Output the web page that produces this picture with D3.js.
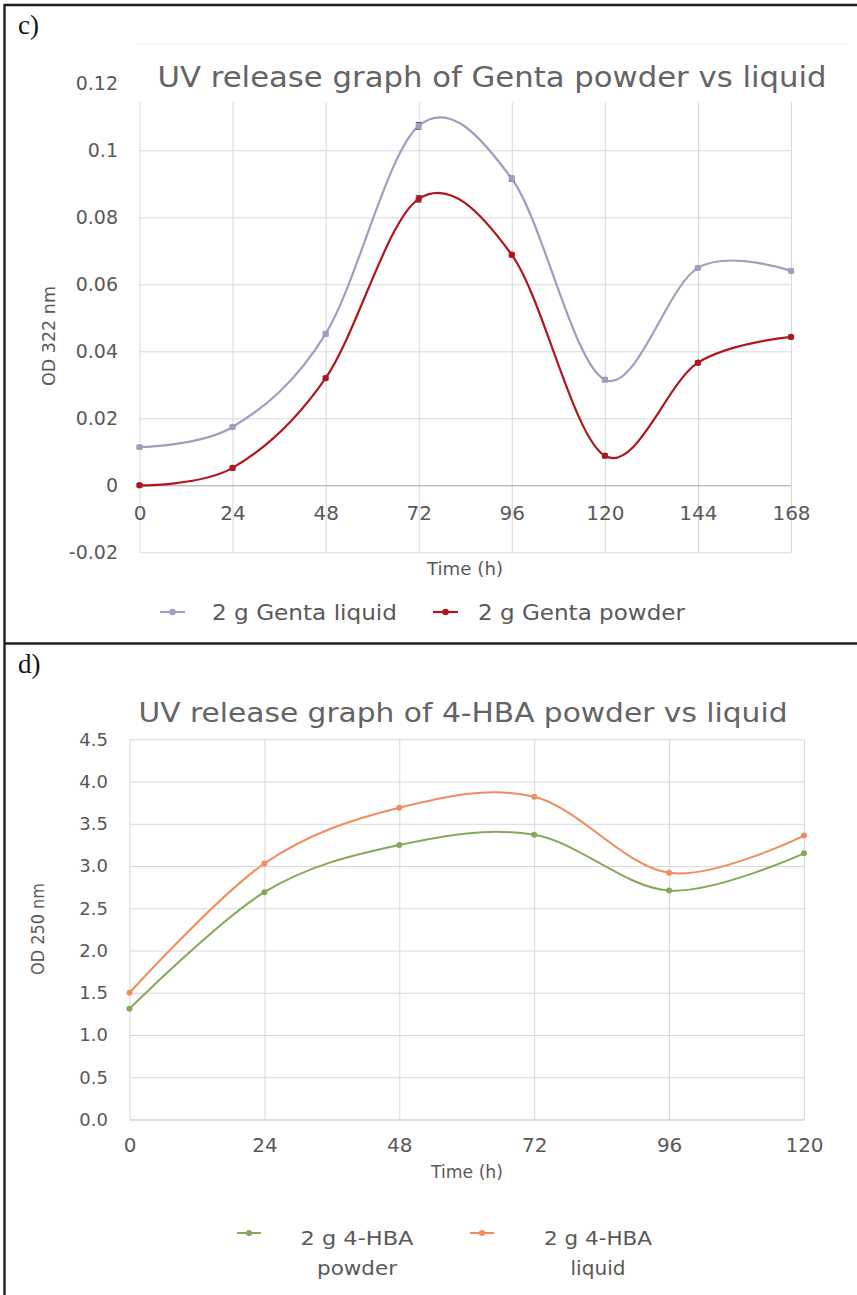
<!DOCTYPE html>
<html>
<head>
<meta charset="utf-8">
<script src="https://cdn.jsdelivr.net/npm/d3@7"></script>
<style>
  html, body { margin: 0; padding: 0; background: #fff; }
  svg { display: block; }
  text { font-family: "DejaVu Sans", "Noto Sans", sans-serif; }
</style>
</head>
<body>
<svg id="fig" width="857" height="1295"></svg>
<script>
// ---- Panel c: Gentamicin release (OD 322 nm) ----
const gentaTimes = [0, 24, 48, 72, 96, 120, 144, 168];
const gentaLiquid = [0.0114, 0.0174, 0.0452, 0.1073, 0.0915, 0.0315, 0.0649, 0.0640];
const gentaLiquidErr = [0.0005, 0.0005, 0.0006, 0.0010, 0.0008, 0.0006, 0.0005, 0.0005];
const gentaPowder = [0.0000, 0.0052, 0.0320, 0.0855, 0.0688, 0.0088, 0.0366, 0.0443];
const gentaPowderErr = [0.0005, 0.0006, 0.0006, 0.0010, 0.0006, 0.0006, 0.0005, 0.0005];
const gentaYTicks = [-0.02, 0, 0.02, 0.04, 0.06, 0.08, 0.1, 0.12];
const gentaYLabels = ["-0.02", "0", "0.02", "0.04", "0.06", "0.08", "0.1", "0.12"];
const gentaSeriesNames = ["2 g Genta liquid", "2 g Genta powder"];

// ---- Panel d: 4-HBA release (OD 250 nm) ----
const hbaTimes = [0, 24, 48, 72, 96, 120];
const hbaPowder = [1.31, 2.69, 3.25, 3.37, 2.71, 3.15];
const hbaLiquid = [1.50, 3.03, 3.69, 3.82, 2.92, 3.36];
const hbaYTicks = [0, 0.5, 1, 1.5, 2, 2.5, 3, 3.5, 4, 4.5];
const hbaSeriesNames = [["2 g 4-HBA", "powder"], ["2 g 4-HBA", "liquid"]];

const svg = d3.select("#fig");
const gridColor = "#d9d9d9";
const labelColor = "#595959";
const smooth = d3.curveCardinal.tension(0);

// Table frame around both panels
const frame = svg.append("g").attr("stroke", "#231f20").attr("stroke-width", 2.4).attr("fill", "none");
frame.append("line").attr("x1", 4).attr("x2", 857).attr("y1", 5).attr("y2", 5);
frame.append("line").attr("x1", 4).attr("x2", 857).attr("y1", 643.5).attr("y2", 643.5);
frame.append("line").attr("x1", 4.5).attr("x2", 4.5).attr("y1", 4).attr("y2", 1295);

svg.append("text").attr("x", 18).attr("y", 34)
  .style("font-family", "'Liberation Serif', 'Times New Roman', serif")
  .style("font-size", "27px").attr("fill", "#111").text("c)");
svg.append("text").attr("x", 18).attr("y", 673)
  .style("font-family", "'Liberation Serif', 'Times New Roman', serif")
  .style("font-size", "27px").attr("fill", "#111").text("d)");

// ================= Panel c =================
{
  const x = d3.scaleLinear().domain([0, 168]).range([139.5, 791]);
  const y = d3.scaleLinear().domain([-0.02, 0.12]).range([552.3, 83.3]);
  const g = svg.append("g");

  // faint chart-area edge
  g.append("line").attr("x1", 138).attr("x2", 848).attr("y1", 44).attr("y2", 44)
    .attr("stroke", "#f1f5f5").attr("stroke-width", 1);

  // gridlines
  g.append("g").attr("transform", `translate(0,${y(-0.02)})`)
    .call(d3.axisBottom(x).tickValues(gentaTimes).tickSize(-(y(-0.02) - y(0.12))).tickFormat(""))
    .call(a => a.select(".domain").remove())
    .call(a => a.selectAll("line").attr("stroke", gridColor));
  g.append("g").attr("transform", `translate(${x(0)},0)`)
    .call(d3.axisLeft(y).tickValues(gentaYTicks).tickSize(-(x(168) - x(0))).tickFormat(""))
    .call(a => a.select(".domain").remove())
    .call(a => a.selectAll("line").attr("stroke", d => d === 0 ? "#a6a6a6" : gridColor));

  // title (white box covers the top of the grid)
  g.append("rect").attr("x", 137).attr("y", 52).attr("width", 695).attr("height", 50.5).attr("fill", "#fff");
  g.append("text").attr("x", 492).attr("y", 87).attr("text-anchor", "middle")
    .attr("textLength", 669).attr("lengthAdjust", "spacingAndGlyphs")
    .style("font-size", "29px").attr("fill", "#646464")
    .text("UV release graph of Genta powder vs liquid");

  // axes labels
  g.append("g").attr("transform", `translate(0,${y(0)})`)
    .call(d3.axisBottom(x).tickValues(gentaTimes).tickSize(0).tickPadding(21))
    .call(a => a.select(".domain").remove())
    .call(a => a.selectAll("text").attr("fill", labelColor).style("font-size", "20px"));
  g.append("g").attr("transform", `translate(${x(0)},0)`)
    .call(d3.axisLeft(y).tickValues(gentaYTicks).tickSize(0).tickPadding(21.5)
      .tickFormat((d, i) => gentaYLabels[i]))
    .call(a => a.select(".domain").remove())
    .call(a => a.selectAll("text").attr("fill", labelColor).style("font-size", "19px"));

  g.append("text").attr("x", 465).attr("y", 575).attr("text-anchor", "middle")
    .attr("textLength", 76).attr("lengthAdjust", "spacingAndGlyphs")
    .style("font-size", "17px").attr("fill", labelColor).text("Time (h)");
  g.append("text").attr("transform", "translate(55,336) rotate(-90)").attr("text-anchor", "middle")
    .attr("textLength", 100).attr("lengthAdjust", "spacingAndGlyphs")
    .style("font-size", "18px").attr("fill", labelColor).text("OD 322 nm");

  const series = [
    { name: gentaSeriesNames[0], vals: gentaLiquid, err: gentaLiquidErr, color: "#a29cc0" },
    { name: gentaSeriesNames[1], vals: gentaPowder, err: gentaPowderErr, color: "#b0161e" }
  ];
  const line = d3.line().x((d, i) => x(gentaTimes[i])).y(d => y(d)).curve(smooth);
  series.forEach(s => {
    const sg = g.append("g");
    sg.append("path").attr("d", line(s.vals)).attr("fill", "none")
      .attr("stroke", s.color).attr("stroke-width", 2.2);
    // error bars
    s.vals.forEach((v, i) => {
      const cx = x(gentaTimes[i]);
      const y1 = y(v + s.err[i]), y2 = y(v - s.err[i]);
      sg.append("line").attr("x1", cx).attr("x2", cx).attr("y1", y1).attr("y2", y2)
        .attr("stroke", "#555").attr("stroke-width", 1);
      [y1, y2].forEach(yy => sg.append("line").attr("x1", cx - 3).attr("x2", cx + 3)
        .attr("y1", yy).attr("y2", yy).attr("stroke", "#555").attr("stroke-width", 1));
    });
    sg.selectAll("circle").data(s.vals).join("circle")
      .attr("cx", (d, i) => x(gentaTimes[i])).attr("cy", d => y(d)).attr("r", 3.2)
      .attr("fill", s.color);
  });

  // legend
  const leg = [
    { x0: 160, tx: 212, color: series[0].color, name: series[0].name, len: 185 },
    { x0: 433, tx: 478, color: series[1].color, name: series[1].name, len: 207 }
  ];
  leg.forEach(l => {
    g.append("line").attr("x1", l.x0).attr("x2", l.x0 + 25).attr("y1", 612).attr("y2", 612)
      .attr("stroke", l.color).attr("stroke-width", 2.2);
    g.append("circle").attr("cx", l.x0 + 12.5).attr("cy", 612).attr("r", 3.2).attr("fill", l.color);
    g.append("text").attr("x", l.tx).attr("y", 620)
      .attr("textLength", l.len).attr("lengthAdjust", "spacingAndGlyphs")
      .style("font-size", "22px").attr("fill", labelColor).text(l.name);
  });
}

// ================= Panel d =================
{
  const x = d3.scaleLinear().domain([0, 120]).range([129.5, 804]);
  const y = d3.scaleLinear().domain([0, 4.5]).range([1119.5, 739.3]);
  const g = svg.append("g");

  g.append("g").attr("transform", `translate(0,${y(0)})`)
    .call(d3.axisBottom(x).tickValues(hbaTimes).tickSize(-(y(0) - y(4.5))).tickFormat(""))
    .call(a => a.select(".domain").remove())
    .call(a => a.selectAll("line").attr("stroke", gridColor));
  g.append("g").attr("transform", `translate(${x(0)},0)`)
    .call(d3.axisLeft(y).tickValues(hbaYTicks).tickSize(-(x(120) - x(0))).tickFormat(""))
    .call(a => a.select(".domain").remove())
    .call(a => a.selectAll("line").attr("stroke", d => d === 0 ? "#bfbfbf" : gridColor));

  g.append("text").attr("x", 463).attr("y", 722).attr("text-anchor", "middle")
    .attr("textLength", 649).attr("lengthAdjust", "spacingAndGlyphs")
    .style("font-size", "26px").attr("fill", "#646464")
    .text("UV release graph of 4-HBA powder vs liquid");

  g.append("g").attr("transform", `translate(0,${y(0)})`)
    .call(d3.axisBottom(x).tickValues(hbaTimes).tickSize(0).tickPadding(18))
    .call(a => a.select(".domain").remove())
    .call(a => a.selectAll("text").attr("fill", labelColor).style("font-size", "20px"));
  g.append("g").attr("transform", `translate(${x(0)},0)`)
    .call(d3.axisLeft(y).tickValues(hbaYTicks).tickSize(0).tickPadding(21.5).tickFormat(d3.format(".1f")))
    .call(a => a.select(".domain").remove())
    .call(a => a.selectAll("text").attr("fill", labelColor).style("font-size", "18px"));

  g.append("text").attr("x", 467).attr("y", 1178).attr("text-anchor", "middle")
    .attr("textLength", 72).attr("lengthAdjust", "spacingAndGlyphs")
    .style("font-size", "17px").attr("fill", labelColor).text("Time (h)");
  g.append("text").attr("transform", "translate(44,929) rotate(-90)").attr("text-anchor", "middle")
    .attr("textLength", 92).attr("lengthAdjust", "spacingAndGlyphs")
    .style("font-size", "17px").attr("fill", labelColor).text("OD 250 nm");

  const series = [
    { vals: hbaPowder, color: "#86a85a", label: hbaSeriesNames[0] },
    { vals: hbaLiquid, color: "#f28c5c", label: hbaSeriesNames[1] }
  ];
  const line = d3.line().x((d, i) => x(hbaTimes[i])).y(d => y(d)).curve(smooth);
  series.forEach(s => {
    g.append("path").attr("d", line(s.vals)).attr("fill", "none")
      .attr("stroke", s.color).attr("stroke-width", 2);
    g.append("g").selectAll("circle").data(s.vals).join("circle")
      .attr("cx", (d, i) => x(hbaTimes[i])).attr("cy", d => y(d)).attr("r", 3)
      .attr("fill", s.color);
  });

  const leg = [
    { x0: 237, cx: 357, color: series[0].color, label: series[0].label, lens: [113, 80] },
    { x0: 470, cx: 598, color: series[1].color, label: series[1].label, lens: [108, 55] }
  ];
  leg.forEach(l => {
    g.append("line").attr("x1", l.x0).attr("x2", l.x0 + 24).attr("y1", 1233).attr("y2", 1233)
      .attr("stroke", l.color).attr("stroke-width", 2);
    g.append("circle").attr("cx", l.x0 + 12).attr("cy", 1233).attr("r", 3).attr("fill", l.color);
    l.label.forEach((t, k) => {
      g.append("text").attr("x", l.cx).attr("y", 1245 + k * 30).attr("text-anchor", "middle")
        .attr("textLength", l.lens[k]).attr("lengthAdjust", "spacingAndGlyphs")
        .style("font-size", "20px").attr("fill", labelColor).text(t);
    });
  });
}
</script>
</body>
</html>
